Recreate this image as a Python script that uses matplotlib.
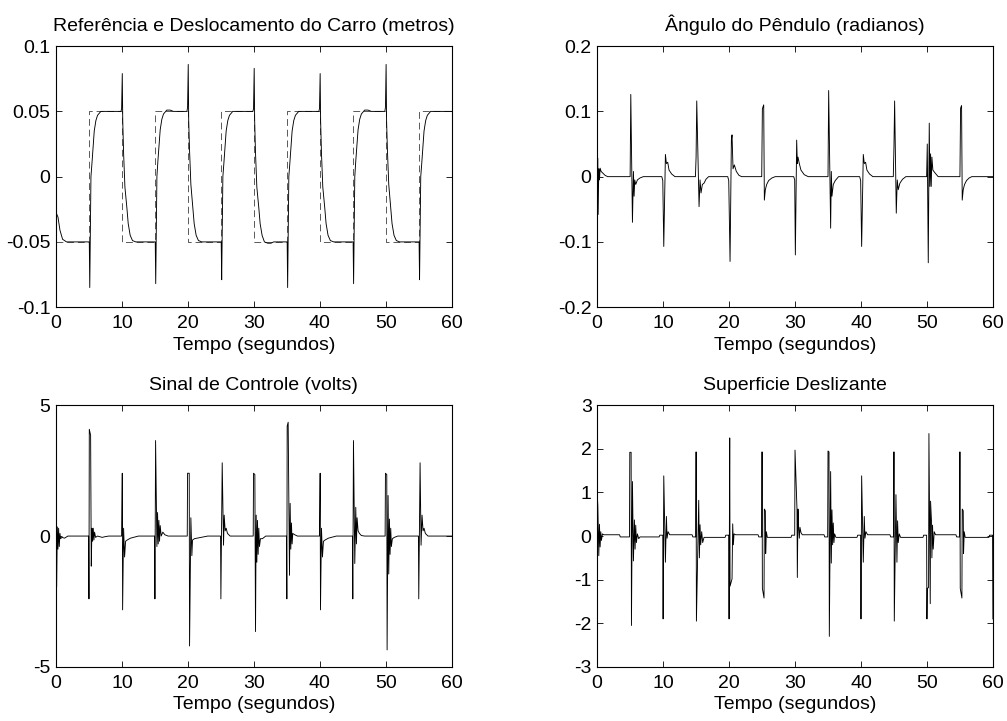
import numpy as np
import matplotlib.pyplot as plt

plt.rcParams['font.family'] = ['Liberation Sans', 'DejaVu Sans']
plt.rcParams['font.size'] = 14
plt.rcParams['axes.unicode_minus'] = False

# reference square wave (steps)
ref_t = [0, 5, 10, 15, 20, 25, 30, 35, 40, 45, 50, 55, 60]
ref_y = [-0.05, 0.05, -0.05, 0.05, -0.05, 0.05, -0.05, 0.05, -0.05, 0.05, -0.05, 0.05, -0.05]

# cart displacement (m), one line per transition
cart_t = [0.0, 0.05, 0.3, 0.6, 1.0, 1.6,
          5.05, 5.12, 5.3, 5.45, 5.8, 6.05, 6.3, 6.8,
          9.85, 9.95, 10.05, 10.12, 10.25, 10.45, 10.75, 10.95, 11.25, 11.6, 12.1,
          15.05, 15.12, 15.3, 15.45, 15.8, 16.05, 16.3, 16.8, 17.3, 17.8,
          19.85, 19.95, 20.05, 20.12, 20.25, 20.45, 20.75, 20.95, 21.25, 21.6, 22.1,
          25.05, 25.12, 25.3, 25.45, 25.8, 26.05, 26.3, 26.8,
          29.85, 29.95, 30.05, 30.12, 30.25, 30.45, 30.75, 30.95, 31.25, 31.6, 32.1, 32.6, 33.0,
          35.05, 35.12, 35.3, 35.45, 35.8, 36.05, 36.3, 36.8,
          39.85, 39.95, 40.05, 40.12, 40.25, 40.45, 40.75, 40.95, 41.25, 41.6, 42.1,
          45.05, 45.12, 45.3, 45.45, 45.8, 46.05, 46.3, 46.8, 47.3, 47.8,
          49.85, 49.95, 50.05, 50.12, 50.25, 50.45, 50.75, 50.95, 51.25, 51.6, 52.1,
          55.05, 55.12, 55.3, 55.45, 55.8, 56.05, 56.3, 56.8, 60.0]
cart_y = [0.015, -0.028, -0.031, -0.041, -0.048, -0.05,
          -0.05, -0.085, 0.0, 0.01, 0.035, 0.043, 0.047, 0.05,
          0.05, 0.052, 0.079, 0.043, 0.018, -0.008, -0.024, -0.036, -0.045, -0.049, -0.05,
          -0.05, -0.082, 0.0, 0.012, 0.036, 0.044, 0.048, 0.051, 0.051, 0.05,
          0.05, 0.053, 0.086, 0.043, 0.02, -0.006, -0.024, -0.036, -0.045, -0.049, -0.05,
          -0.05, -0.079, 0.0, 0.01, 0.035, 0.043, 0.047, 0.05,
          0.05, 0.052, 0.083, 0.043, 0.018, -0.008, -0.024, -0.036, -0.045, -0.05, -0.051, -0.051, -0.05,
          -0.05, -0.085, 0.0, 0.01, 0.035, 0.043, 0.047, 0.05,
          0.05, 0.052, 0.079, 0.043, 0.018, -0.008, -0.024, -0.036, -0.045, -0.049, -0.05,
          -0.05, -0.082, 0.0, 0.012, 0.036, 0.044, 0.048, 0.051, 0.051, 0.05,
          0.05, 0.053, 0.086, 0.043, 0.02, -0.006, -0.024, -0.036, -0.045, -0.049, -0.05,
          -0.05, -0.079, 0.0, 0.01, 0.035, 0.043, 0.047, 0.05, 0.05]

# pendulum angle (rad)
ang_t = [0.0, 0.02, 0.1, 0.15, 0.25, 0.35, 0.45, 0.6, 0.8, 1.2, 1.6,
         5.0, 5.1, 5.35, 5.5, 5.6, 5.7, 5.85, 6.1, 6.5, 7.0,
         9.8, 9.95, 10.1, 10.35, 10.5, 10.7, 10.9, 11.3, 11.8,
         14.9, 15.0, 15.1, 15.45, 15.6, 15.75, 15.95, 16.2, 16.5, 16.9,
         19.8, 19.95, 20.15, 20.35, 20.45, 20.6, 20.8, 21.1, 21.5, 21.9,
         24.95, 25.05, 25.25, 25.35, 25.5, 25.7, 26.0, 26.5, 27.0,
         29.8, 29.95, 30.05, 30.25, 30.35, 30.45, 30.65, 30.9, 31.4, 32.0,
         35.0, 35.1, 35.4, 35.5, 35.6, 35.8, 36.1, 36.6,
         39.8, 39.95, 40.1, 40.35, 40.5, 40.7, 40.9, 41.3, 41.8,
         44.9, 45.0, 45.1, 45.35, 45.5, 45.65, 45.9, 46.3, 46.8,
         49.95, 50.05, 50.2, 50.35, 50.45, 50.55, 50.65, 50.75, 50.9, 51.2, 51.7,
         55.0, 55.1, 55.25, 55.35, 55.5, 55.7, 56.0, 56.4, 56.8, 60.0]
ang_y = [0.0, 0.03, 0.028, -0.058, 0.012, -0.005, 0.013, 0.008, 0.006, 0.002, 0.0,
         0.0, 0.126, -0.07, 0.008, -0.03, -0.005, -0.012, -0.005, -0.002, 0.0,
         0.0, -0.006, -0.107, 0.034, 0.02, 0.022, 0.01, 0.004, 0.0,
         0.0, 0.03, 0.116, -0.046, -0.005, -0.025, -0.012, -0.01, -0.004, 0.0,
         0.0, -0.006, -0.13, 0.056, 0.064, 0.012, 0.018, 0.008, 0.002, 0.0,
         0.0, 0.104, 0.11, -0.036, -0.02, -0.012, -0.006, -0.002, 0.0,
         0.0, -0.005, -0.12, 0.056, 0.02, 0.03, 0.02, 0.01, 0.003, 0.0,
         0.0, 0.132, -0.079, 0.008, -0.03, -0.012, -0.006, 0.0,
         0.0, -0.006, -0.107, 0.034, 0.02, 0.022, 0.01, 0.004, 0.0,
         0.0, 0.046, 0.116, -0.056, -0.005, -0.02, -0.01, -0.004, 0.0,
         0.0, 0.05, -0.132, 0.082, -0.015, 0.035, -0.015, 0.03, 0.01, 0.006, 0.0,
         0.0, 0.105, 0.109, -0.036, -0.02, -0.012, -0.006, -0.002, 0.0, 0.0]

# control signal (V)
ctrl_t = [0.0, 0.05, 0.1, 0.2, 0.3, 0.4, 0.5, 0.6, 0.7, 0.9, 1.3, 1.8,
          4.95, 5.0, 5.05, 5.25, 5.3, 5.35, 5.45, 5.55, 5.65, 5.75, 5.85, 6.0, 6.3, 7.0, 7.5, 8.0,
          9.95, 10.05, 10.1, 10.25, 10.4, 10.55, 10.8, 11.3, 12.5,
          14.95, 15.0, 15.1, 15.3, 15.4, 15.5, 15.6, 15.7, 15.8, 15.95, 16.2, 16.5, 17.0,
          19.9, 19.95, 20.2, 20.25, 20.45, 20.6, 20.7, 21.0, 22.0, 23.0,
          24.95, 25.0, 25.2, 25.4, 25.5, 25.65, 25.8, 26.0, 26.4, 27.0,
          29.9, 29.95, 30.15, 30.25, 30.35, 30.45, 30.55, 30.65, 30.75, 30.85, 31.0, 31.3, 31.8,
          34.95, 35.0, 35.05, 35.2, 35.3, 35.4, 35.5, 35.6, 35.7, 35.8, 35.9, 36.2, 36.6,
          39.95, 40.05, 40.1, 40.25, 40.4, 40.55, 40.8, 41.3, 42.5,
          44.95, 45.0, 45.1, 45.3, 45.45, 45.55, 45.65, 45.8, 46.0, 46.3, 46.8,
          49.9, 49.95, 50.15, 50.2, 50.35, 50.45, 50.55, 50.65, 50.75, 50.85, 51.0, 51.3, 51.8,
          54.95, 55.0, 55.2, 55.35, 55.5, 55.65, 55.8, 56.0, 56.4, 57.0, 60.0]
ctrl_y = [0.4, 0.3, -1.95, 0.35, -0.5, 0.3, -0.4, 0.1, -0.1, -0.05, -0.08, 0.0,
          0.0, -2.4, 4.08, 3.85, 1.1, -1.15, 0.3, -0.2, 0.3, -0.15, 0.15, -0.05, 0.0, -0.05, -0.02, 0.0,
          0.0, 2.4, -2.82, 0.3, -0.8, -0.2, -0.15, -0.08, 0.0,
          0.0, -2.4, 3.65, -0.4, 0.9, -0.3, 0.6, -0.2, 0.4, 0.0, 0.15, 0.05, 0.0,
          0.0, 2.4, 2.4, -4.2, 0.7, -0.75, -0.15, -0.1, -0.05, 0.0,
          0.0, -2.4, 2.8, -0.35, 0.8, 0.2, 0.3, 0.1, 0.0, 0.0,
          0.0, 2.4, 2.35, -3.65, 0.8, -1.0, 0.6, -0.7, 0.3, -0.4, -0.1, -0.1, 0.0,
          0.0, -2.4, 4.2, 4.35, 1.2, -1.5, 1.25, -0.5, 0.5, -0.3, 0.1, 0.05, 0.0,
          0.0, 2.4, -2.82, 0.3, -0.8, -0.2, -0.15, -0.08, 0.0,
          0.0, -2.4, 3.65, -1.05, 1.1, -0.3, 0.7, 0.2, 0.1, 0.02, 0.0,
          0.0, 2.4, 2.35, -4.35, 1.55, -1.45, 0.65, -0.7, 0.3, -0.4, -0.1, -0.05, 0.0,
          0.0, -2.4, 2.8, -0.35, 0.8, 0.2, 0.3, 0.1, 0.0, 0.0, 0.0]

# sliding surface
surf_t = [0.0, 0.1, 0.25, 0.35, 0.45, 0.55, 0.65, 0.8, 1.0, 3.4, 3.5,
          4.9, 4.95, 5.15, 5.2, 5.35, 5.5, 5.65, 5.75, 5.85, 5.95, 6.1, 6.3, 6.5, 9.4, 9.5,
          9.95, 10.0, 10.1, 10.35, 10.5, 10.6, 10.75, 11.0, 14.4, 14.5,
          14.95, 15.0, 15.05, 15.4, 15.5, 15.6, 15.7, 15.85, 16.0, 16.2, 19.4, 19.5,
          19.95, 20.0, 20.1, 20.15, 20.45, 20.55, 20.65, 20.75, 21.0, 24.4, 24.5,
          24.95, 25.0, 25.05, 25.3, 25.35, 25.5, 25.55, 25.65, 25.8, 29.4, 29.5,
          29.95, 30.0, 30.3, 30.35, 30.45, 30.55, 30.65, 30.75, 30.9, 31.1, 34.4, 34.5,
          34.95, 35.0, 35.15, 35.2, 35.4, 35.5, 35.6, 35.7, 35.8, 35.9, 36.0, 36.2, 39.4, 39.5,
          39.95, 40.0, 40.1, 40.35, 40.5, 40.6, 40.75, 41.0, 44.4, 44.5,
          44.95, 45.0, 45.05, 45.3, 45.45, 45.55, 45.65, 45.8, 46.0, 49.4, 49.5,
          49.95, 50.0, 50.05, 50.25, 50.3, 50.5, 50.55, 50.7, 50.75, 50.85, 50.95, 51.1, 51.3, 54.4, 54.5,
          54.95, 55.0, 55.05, 55.3, 55.35, 55.5, 55.55, 55.65, 55.8, 59.4, 59.5, 59.95, 60.0]
surf_y = [1.0, 0.7, -0.45, 0.27, -0.25, 0.1, -0.1, 0.05, 0.03, 0.03, -0.02,
          -0.02, 1.92, 1.92, -2.05, 1.25, -0.57, 0.37, -0.3, 0.25, -0.15, 0.05, -0.06, -0.02, -0.02, 0.02,
          0.02, -1.9, 1.38, -0.6, 0.45, -0.05, 0.1, 0.03, 0.03, -0.02,
          -0.02, 1.93, -1.95, 0.82, -0.5, 0.26, -0.2, 0.1, -0.15, -0.03, -0.03, 0.02,
          0.02, -1.9, 2.25, -1.15, -0.98, 0.28, -0.2, 0.05, 0.03, 0.03, -0.02,
          -0.02, 1.93, -1.2, -1.42, 0.62, 0.58, -0.4, 0.1, -0.03, -0.03, 0.02,
          0.02, 1.97, 0.6, -0.95, 0.62, 0.2, -0.05, 0.2, 0.08, 0.03, 0.03, -0.02,
          -0.02, 1.95, 1.93, -2.3, 1.48, -0.62, 0.6, -0.2, 0.3, -0.15, 0.05, -0.03, -0.03, 0.02,
          0.02, -1.9, 1.38, -0.6, 0.45, -0.05, 0.1, 0.03, 0.03, -0.02,
          -0.02, 1.93, -1.95, 0.95, -0.6, 0.35, -0.15, 0.05, -0.03, -0.03, 0.02,
          0.02, -1.9, -1.2, -1.18, 2.35, -1.55, 0.8, 0.3, -0.5, 0.25, -0.3, 0.1, 0.03, 0.03, -0.02,
          -0.02, 1.93, -1.2, -1.42, 0.62, 0.58, -0.4, 0.1, -0.03, -0.03, 0.02, 0.02, -1.9]

x_ticks = [0, 10, 20, 30, 40, 50, 60]
xlabel = 'Tempo (segundos)'

fig = plt.figure(figsize=(10.07, 7.21), dpi=100)
ax1 = fig.add_axes([0.0556, 0.574, 0.393, 0.362])
ax2 = fig.add_axes([0.593, 0.574, 0.393, 0.362])
ax3 = fig.add_axes([0.0556, 0.075, 0.393, 0.363])
ax4 = fig.add_axes([0.593, 0.075, 0.393, 0.363])


def style(ax, title, ylim, yticks, ylabels):
    ax.set_xlim(0, 60)
    ax.set_ylim(*ylim)
    ax.set_xticks(x_ticks)
    ax.set_yticks(yticks)
    ax.set_yticklabels(ylabels)
    ax.tick_params(direction='in', top=True, right=True, length=4, width=0.6,
                   labelsize=14)
    ax.tick_params(axis='x', pad=6)
    ax.tick_params(axis='y', pad=4)
    for s in ax.spines.values():
        s.set_linewidth(0.8)
    ax.set_title(title, fontsize=14, pad=11)
    ax.set_xlabel(xlabel, fontsize=14, labelpad=3)


ax1.plot(ref_t, ref_y, drawstyle='steps-post', color='0.35', lw=0.7, linestyle=(0, (7, 4)))
ax1.plot(cart_t, cart_y, color='k', lw=0.65)
style(ax1, 'Referência e Deslocamento do Carro (metros)', (-0.1, 0.1),
      [-0.1, -0.05, 0, 0.05, 0.1], ['-0.1', '-0.05', '0', '0.05', '0.1'])

ax2.plot(ang_t, ang_y, color='k', lw=0.65)
style(ax2, 'Ângulo do Pêndulo (radianos)', (-0.2, 0.2),
      [-0.2, -0.1, 0, 0.1, 0.2], ['-0.2', '-0.1', '0', '0.1', '0.2'])

ax3.plot(ctrl_t, ctrl_y, color='k', lw=0.65)
style(ax3, 'Sinal de Controle (volts)', (-5, 5), [-5, 0, 5], ['-5', '0', '5'])

ax4.plot(surf_t, surf_y, color='k', lw=0.65)
style(ax4, 'Superficie Deslizante', (-3, 3), [-3, -2, -1, 0, 1, 2, 3],
      ['-3', '-2', '-1', '0', '1', '2', '3'])

fig.savefig('out.png', dpi=100)
